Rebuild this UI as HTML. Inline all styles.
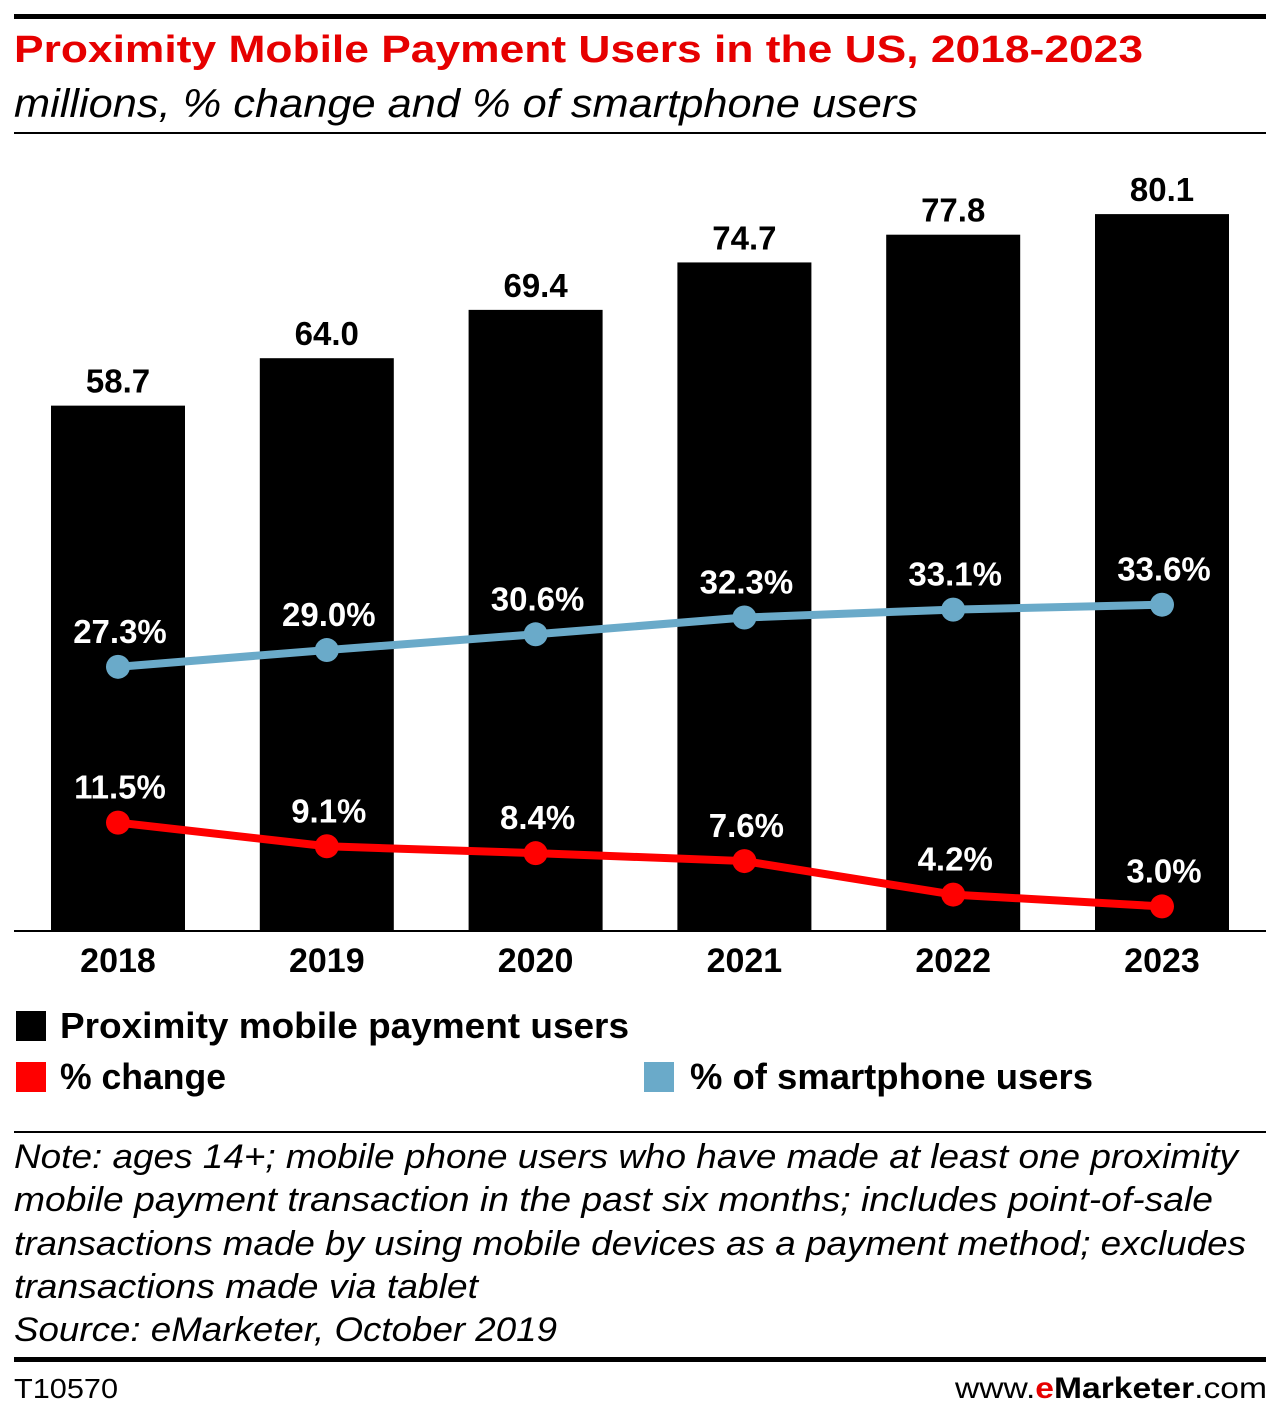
<!DOCTYPE html>
<html><head><meta charset="utf-8"><style>
html,body{margin:0;padding:0;background:#fff;}
svg{display:block;font-family:"Liberation Sans",sans-serif;}
</style></head><body>
<svg id="chart" width="1280" height="1424" viewBox="0 0 1280 1424">
<rect x="14" y="14" width="1252" height="5" fill="#000"/>
<text x="14" y="62" font-size="38" font-weight="bold" fill="#e60000" textLength="1129" lengthAdjust="spacingAndGlyphs">Proximity Mobile Payment Users in the US, 2018-2023</text>
<text x="14" y="117" font-size="40" font-style="italic" fill="#000" textLength="904" lengthAdjust="spacingAndGlyphs">millions, % change and % of smartphone users</text>
<rect x="14" y="132" width="1252" height="2" fill="#000"/>
<g id="bars"></g>
<g id="lines"></g>
<rect x="14" y="930" width="1252" height="2" fill="#000"/>
<g id="xlabels"></g>
<rect x="16" y="1011" width="30" height="30" fill="#000"/>
<text x="60" y="1038" font-size="36" font-weight="bold" textLength="569" lengthAdjust="spacingAndGlyphs">Proximity mobile payment users</text>
<rect x="16" y="1062" width="30" height="30" fill="#ff0000"/>
<text x="60" y="1089" font-size="36" font-weight="bold" textLength="166" lengthAdjust="spacingAndGlyphs">% change</text>
<rect x="644" y="1062" width="30" height="30" fill="#6aaac9"/>
<text x="690" y="1089" font-size="36" font-weight="bold" textLength="403" lengthAdjust="spacingAndGlyphs">% of smartphone users</text>
<rect x="14" y="1131" width="1252" height="2" fill="#000"/>
<g font-size="34" font-style="italic" fill="#000">
<text x="14" y="1168" textLength="1224" lengthAdjust="spacingAndGlyphs">Note: ages 14+; mobile phone users who have made at least one proximity</text>
<text x="14" y="1211" textLength="1199" lengthAdjust="spacingAndGlyphs">mobile payment transaction in the past six months; includes point-of-sale</text>
<text x="14" y="1255" textLength="1232" lengthAdjust="spacingAndGlyphs">transactions made by using mobile devices as a payment method; excludes</text>
<text x="14" y="1298" textLength="464" lengthAdjust="spacingAndGlyphs">transactions made via tablet</text>
<text x="14" y="1341" textLength="543" lengthAdjust="spacingAndGlyphs">Source: eMarketer, October 2019</text>
</g>
<rect x="14" y="1357" width="1252" height="5" fill="#000"/>
<text x="14" y="1398" font-size="28" textLength="104" lengthAdjust="spacingAndGlyphs">T10570</text>
<text x="1267" y="1398" font-size="30" text-anchor="end" textLength="312" lengthAdjust="spacingAndGlyphs">www.<tspan fill="#e60000" font-weight="bold">e</tspan><tspan font-weight="bold">Marketer</tspan>.com</text>
</svg>
<script>
const years = ["2018","2019","2020","2021","2022","2023"];
const users = [58.7, 64.0, 69.4, 74.7, 77.8, 80.1];
const pctChange = [11.5, 9.1, 8.4, 7.6, 4.2, 3.0];
const pctSmartphone = [27.3, 29.0, 30.6, 32.3, 33.1, 33.6];

const NS = "http://www.w3.org/2000/svg";
function mk(tag, attrs, parent){const e=document.createElementNS(NS,tag);for(const k in attrs)e.setAttribute(k,attrs[k]);parent.appendChild(e);return e;}
const xCenter = i => 118 + i*208.8;
const yBar = v => 931 - v*8.95;
const yPct = v => 936 - v*9.86;
const barW = 134;
const gb = document.getElementById('bars'), gl = document.getElementById('lines'), gx = document.getElementById('xlabels');

users.forEach((v,i)=>{
  const r = mk('rect',{x:xCenter(i)-barW/2,y:yBar(v),width:barW,height:931-yBar(v),fill:'#000'},gb);
  
  
  const t = mk('text',{x:xCenter(i),y:yBar(v)-13,'font-size':33,'font-weight':'bold','text-anchor':'middle'},gb);
  t.textContent = v.toFixed(1);
  
  
  const yl = mk('text',{x:xCenter(i),y:972,'font-size':34,'font-weight':'bold','text-anchor':'middle'},gx);
  yl.textContent = years[i];
  
  
});

function series(vals,color,name){
  const p = mk('polyline',{points:vals.map((v,i)=>xCenter(i)+','+yPct(v)).join(' '),fill:'none',stroke:color,'stroke-width':8,'stroke-linejoin':'round'},gl);
  
  
  vals.forEach((v,i)=>{
    const c = mk('circle',{cx:xCenter(i),cy:yPct(v),r:12,fill:color},gl);
    
    
    const t = mk('text',{x:xCenter(i)+2,y:yPct(v)-24,'font-size':33,'font-weight':'bold','text-anchor':'middle',fill:'#fff'},gl);
    t.textContent = v.toFixed(1)+'%';
    
    
  });
}
series(pctSmartphone,'#6aaac9','smartphone');
series(pctChange,'#ff0000','change');
</script>
</body></html>
